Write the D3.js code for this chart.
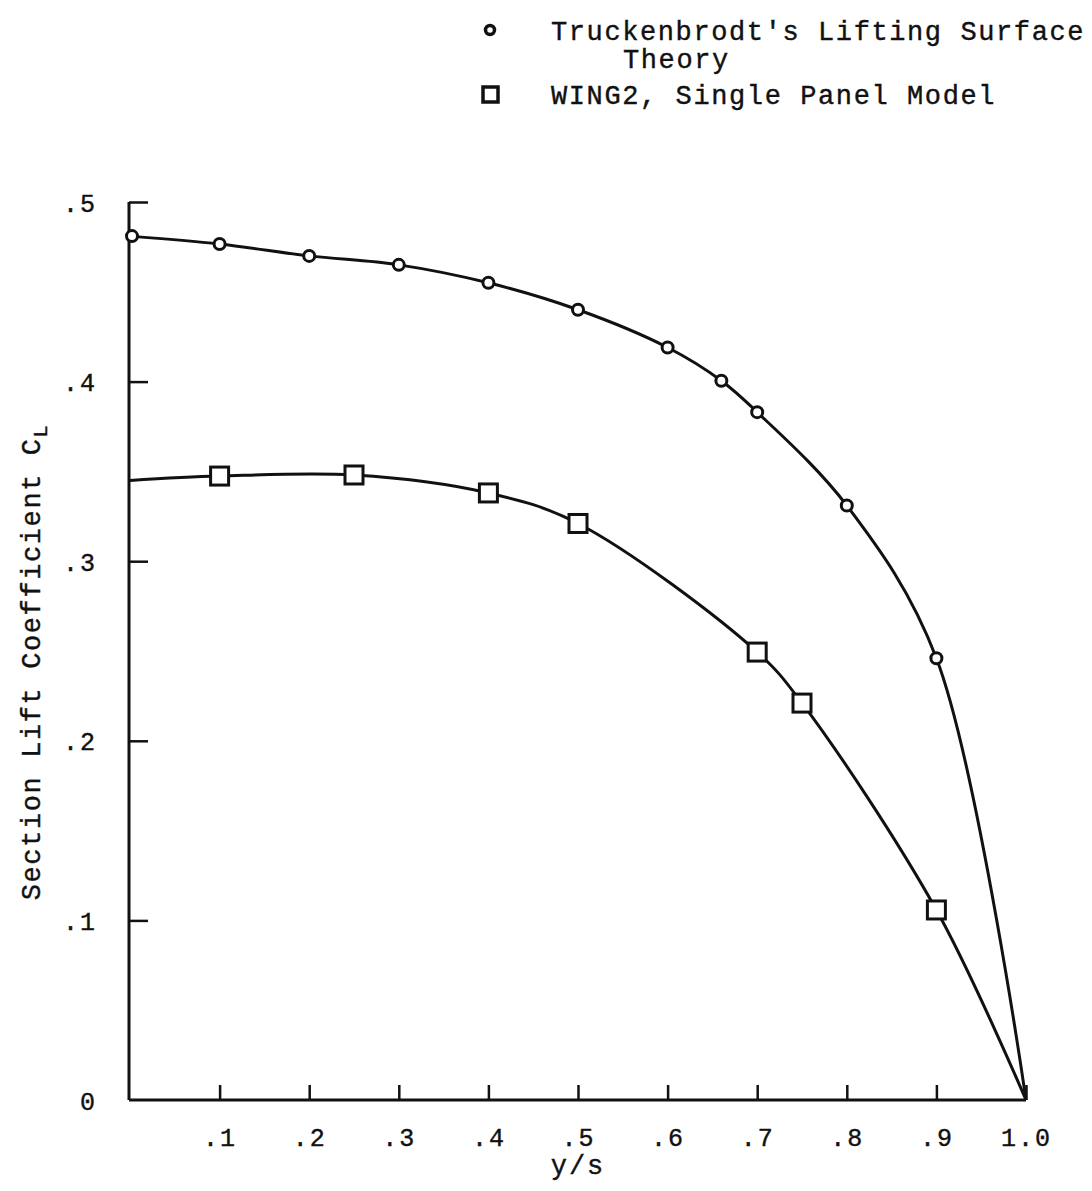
<!DOCTYPE html>
<html>
<head>
<meta charset="utf-8">
<script src="https://cdn.jsdelivr.net/npm/d3@7"></script>
<style>
  body { margin: 0; background: #fff; }
  text { font-family: "Liberation Mono", "DejaVu Sans Mono", monospace; fill: #111; stroke: #111; stroke-width: 0.4px; }
</style>
</head>
<body>
<div class="chart-container"></div>
<script>
// --- Data ---

// Truckenbrodt's lifting surface theory (circles)
const theoryX = [0, 0.1, 0.2, 0.3, 0.4, 0.5, 0.6, 0.66, 0.7, 0.8, 0.9];
const theoryY = [0.481, 0.4766, 0.470, 0.465, 0.455, 0.440, 0.419, 0.4005, 0.383, 0.331, 0.246];

// WING2, single panel model (squares)
const wingX = [0.1, 0.25, 0.4, 0.5, 0.7, 0.75, 0.9];
const wingY = [0.3474, 0.348, 0.338, 0.321, 0.2494, 0.221, 0.1058];

// curve ends (drawn as line only, no marker)
const wingStart = [0, 0.345];
const tipPoint = [1.0, 0];

const xTicks = [0.1, 0.2, 0.3, 0.4, 0.5, 0.6, 0.7, 0.8, 0.9, 1.0];
const xTickLabels = [".1", ".2", ".3", ".4", ".5", ".6", ".7", ".8", ".9", "1.0"];
const yTicks = [0, 0.1, 0.2, 0.3, 0.4, 0.5];
const yTickLabels = ["0", ".1", ".2", ".3", ".4", ".5"];

// --- Layout ---
const w = 1092;
const h = 1191;
const x0 = 130, x1 = 1026;
const y0 = 1100, y1 = 202;

const xScale = d3.scaleLinear().domain([0, 1]).range([x0, x1]);
const yScale = d3.scaleLinear().domain([0, 0.5]).range([y0, y1]);

const svg = d3.select(".chart-container")
    .append("svg")
    .attr("width", w)
    .attr("height", h);

// x axis: ticks point up into the plot
const xAxis = d3.axisBottom(xScale)
    .tickValues(xTicks)
    .tickSize(-15)
    .tickFormat(function (d, i) { return xTickLabels[i]; });

const gx = svg.append("g")
    .attr("transform", "translate(0," + y0 + ")")
    .call(xAxis);
gx.select(".domain").attr("d", "M" + (x0 - 1) + ",0H" + x1);
gx.selectAll("line").attr("stroke-width", 2.5);
gx.selectAll("text")
    .attr("y", 28)
    .attr("dy", "0.71em")
    .attr("font-size", "25px")
    .attr("letter-spacing", "2px")
    .style("font-family", "Liberation Mono, monospace")
    .attr("fill", "#111");

// y axis: ticks point right into the plot
const yAxis = d3.axisLeft(yScale)
    .tickValues(yTicks)
    .tickSize(-19)
    .tickFormat(function (d, i) { return yTickLabels[i]; });

const gy = svg.append("g")
    .attr("transform", "translate(" + (x0 - 1) + ",0)")
    .call(yAxis);
gy.select(".domain").attr("d", "M0," + y1 + "V" + y0);
gy.selectAll(".tick line").filter(function (d) { return d === 0; }).remove();
gy.selectAll("line").attr("stroke-width", 2.5);
gy.selectAll("text")
    .attr("x", -32)
    .attr("dy", "0.36em")
    .attr("font-size", "25px")
    .attr("letter-spacing", "2px")
    .style("font-family", "Liberation Mono, monospace")
    .attr("fill", "#111");

svg.selectAll(".domain").attr("stroke", "#111").attr("stroke-width", 3);
svg.selectAll(".tick line").attr("stroke", "#111");

// --- Curves ---
const line = d3.line()
    .x(function (d) { return xScale(d[0]); })
    .y(function (d) { return yScale(d[1]); })
    .curve(d3.curveCatmullRom.alpha(0.5));

const theoryPts = theoryX.map(function (x, i) { return [x, theoryY[i]]; });
const wingPts = wingX.map(function (x, i) { return [x, wingY[i]]; });

svg.append("path")
    .datum(theoryPts.concat([tipPoint]))
    .attr("d", line)
    .attr("fill", "none")
    .attr("stroke", "#111")
    .attr("stroke-width", 3);

svg.append("path")
    .datum([wingStart].concat(wingPts, [tipPoint]))
    .attr("d", line)
    .attr("fill", "none")
    .attr("stroke", "#111")
    .attr("stroke-width", 3);

// --- Markers ---
svg.selectAll("circle.theory")
    .data(theoryPts)
    .enter()
    .append("circle")
    .attr("class", "theory")
    .attr("cx", function (d) { return xScale(d[0]) + (d[0] === 0 ? 2 : 0); })
    .attr("cy", function (d) { return yScale(d[1]); })
    .attr("r", 5.5)
    .attr("fill", "#fff")
    .attr("stroke", "#111")
    .attr("stroke-width", 3);

const sq = 18;
svg.selectAll("rect.wing")
    .data(wingPts)
    .enter()
    .append("rect")
    .attr("class", "wing")
    .attr("x", function (d) { return xScale(d[0]) - sq / 2; })
    .attr("y", function (d) { return yScale(d[1]) - sq / 2; })
    .attr("width", sq)
    .attr("height", sq)
    .attr("fill", "#fff")
    .attr("stroke", "#111")
    .attr("stroke-width", 3);

// --- Axis titles ---
svg.append("text")
    .attr("x", 578)
    .attr("y", 1174)
    .attr("text-anchor", "middle")
    .attr("font-size", "27px")
    .attr("letter-spacing", "2px")
    .text("y/s");

const yTitle = svg.append("text")
    .attr("transform", "translate(40,662) rotate(-90)")
    .attr("text-anchor", "middle")
    .attr("font-size", "27px")
    .attr("letter-spacing", "1.6px");
yTitle.append("tspan").text("Section Lift Coefficient C");
yTitle.append("tspan")
    .attr("dy", "0.35em")
    .attr("font-size", "20px")
    .text("L");

// --- Legend ---
svg.append("circle")
    .attr("cx", 490).attr("cy", 30).attr("r", 4.5)
    .attr("fill", "#fff").attr("stroke", "#111").attr("stroke-width", 3.5);
svg.append("rect")
    .attr("x", 483).attr("y", 87).attr("width", 15).attr("height", 15)
    .attr("fill", "#fff").attr("stroke", "#111").attr("stroke-width", 3.5);

svg.append("text")
    .attr("x", 551).attr("y", 40)
    .attr("font-size", "27px").attr("letter-spacing", "1.6px")
    .text("Truckenbrodt's Lifting Surface");
svg.append("text")
    .attr("x", 623).attr("y", 68)
    .attr("font-size", "27px").attr("letter-spacing", "1.6px")
    .text("Theory");
svg.append("text")
    .attr("x", 551).attr("y", 104)
    .attr("font-size", "27px").attr("letter-spacing", "1.6px")
    .text("WING2, Single Panel Model");
</script>
</body>
</html>
